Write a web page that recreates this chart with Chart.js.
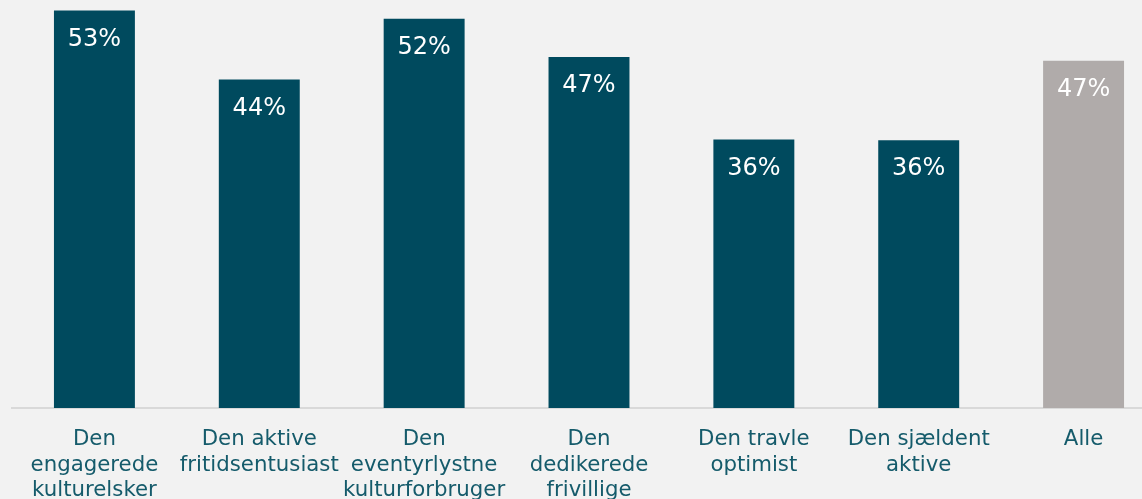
<!DOCTYPE html>
<html>
<head>
<meta charset="utf-8">
<script src="https://cdn.jsdelivr.net/npm/chart.js@4"></script>
<style>
  html, body { margin: 0; padding: 0; background: #f2f2f2; overflow: hidden; }
  #wrap { width: 1166px; height: 499px; }
</style>
</head>
<body>
<div id="wrap"><canvas id="myChart" width="1166" height="499"></canvas></div>
<script>
// categories (multi-line labels as in the picture)
const categories = [
    ['Den', 'engagerede', 'kulturelsker'],
    ['Den aktive', 'fritidsentusiast'],
    ['Den', 'eventyrlystne', 'kulturforbruger'],
    ['Den', 'dedikerede', 'frivillige'],
    ['Den travle', 'optimist'],
    ['Den sjældent', 'aktive'],
    ['Alle']
];
const values = [53, 43.8, 51.9, 46.8, 35.8, 35.7, 46.3];
const valueLabels = ['53%', '44%', '52%', '47%', '36%', '36%', '47%'];
const barColors = ['#004a5e', '#004a5e', '#004a5e', '#004a5e', '#004a5e', '#004a5e', '#b0abaa'];

// draws the % label inside the top of each bar
const barLabels = {
    id: 'barLabels',
    afterDatasetsDraw(chart) {
        const ctx = chart.ctx;
        const meta = chart.getDatasetMeta(0);
        ctx.save();
        ctx.fillStyle = '#ffffff';
        ctx.font = '24px "DejaVu Sans"';
        ctx.textAlign = 'center';
        ctx.textBaseline = 'middle';
        meta.data.forEach(function(bar, i) {
            ctx.fillText(valueLabels[i], bar.x, bar.y + 29);
        });
        ctx.restore();
    }
};

const data = {
    labels: categories,
    datasets: [{
        data: values,
        backgroundColor: barColors,
        borderWidth: 0,
        barPercentage: 0.491,
        categoryPercentage: 1
    }]
};

const config = {
    type: 'bar',
    data: data,
    options: {
        responsive: false,
        animation: false,
        layout: { padding: { left: 12, right: 0, top: 0, bottom: 0 } },
        plugins: {
            legend: { display: false },
            tooltip: { enabled: false }
        },
        scales: {
            x: {
                grid: { display: false },
                border: { color: '#d9d9d9', width: 2 },
                ticks: {
                    color: '#155b6b',
                    font: { family: 'DejaVu Sans', size: 21.3, lineHeight: 1.2 },
                    padding: 11,
                    maxRotation: 0,
                    autoSkip: false
                },
                afterFit: function(scale) { scale.height = 91; }
            },
            y: {
                display: false,
                min: 0,
                max: 54.4
            }
        }
    },
    plugins: [barLabels]
};

const chart = new Chart(document.getElementById('myChart'), config);
</script>
</body>
</html>
